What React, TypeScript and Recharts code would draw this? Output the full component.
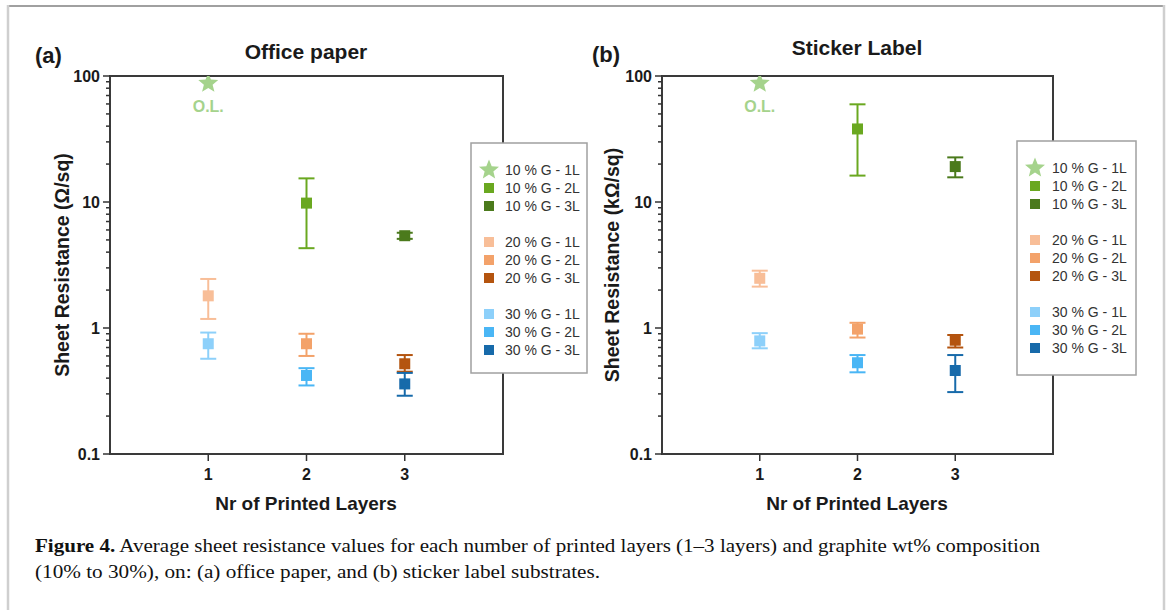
import { ErrorBar, ReferenceArea, Scatter, ScatterChart, XAxis, YAxis } from "recharts";

// series order: 10 % (1L,2L,3L), 20 % (1L,2L,3L), 30 % (1L,2L,3L)
const SERIES = [
  "10 % G - 1L", "10 % G - 2L", "10 % G - 3L",
  "20 % G - 1L", "20 % G - 2L", "20 % G - 3L",
  "30 % G - 1L", "30 % G - 2L", "30 % G - 3L",
];
const LAYERS = [1, 2, 3, 1, 2, 3, 1, 2, 3];
const COLORS = [
  "#a5d38c", "#6aa820", "#4b7a1c",
  "#f8be98", "#f3a26a", "#b4540f",
  "#8dd0fa", "#4ab6f5", "#176aaa",
];

const X_TICKS = [1, 2, 3];
const Y_MAJOR = [0.1, 1, 10, 100];
const Y_TICKS = [
  0.1, 0.2, 0.3, 0.4, 0.5, 0.6, 0.7, 0.8, 0.9,
  1, 2, 3, 4, 5, 6, 7, 8, 9,
  10, 20, 30, 40, 50, 60, 70, 80, 90, 100,
];

// (a) office paper, Ω/sq
const OFFICE_VALUE = [87.5, 9.8, 5.4, 1.8, 0.75, 0.52, 0.75, 0.42, 0.36];
const OFFICE_LOW = [null, 4.3, 5.1, 1.18, 0.6, 0.45, 0.57, 0.35, 0.29];
const OFFICE_HIGH = [null, 15.4, 5.7, 2.45, 0.9, 0.61, 0.92, 0.48, 0.44];

// (b) sticker label, kΩ/sq
const STICKER_VALUE = [87.5, 38, 19.1, 2.48, 0.98, 0.8, 0.79, 0.53, 0.46];
const STICKER_LOW = [null, 16.2, 15.7, 2.13, 0.84, 0.7, 0.69, 0.445, 0.31];
const STICKER_HIGH = [null, 59.6, 22.6, 2.85, 1.1, 0.88, 0.91, 0.61, 0.61];

const SANS = '"Liberation Sans", Arial, sans-serif';
const SERIF = '"Liberation Serif", "Times New Roman", serif';
const INK = "#1a1a1a";

function starPath(cx: number, cy: number, R: number, r: number) {
  let d = "";
  for (let k = 0; k < 10; k++) {
    const rad = k % 2 === 0 ? R : r;
    const a = -Math.PI / 2 + (k * Math.PI) / 5;
    d += (k ? "L" : "M") + (cx + rad * Math.cos(a)).toFixed(2) + "," + (cy + rad * Math.sin(a)).toFixed(2);
  }
  return d + "Z";
}

function YTick(props: any) {
  const { x, y, payload } = props;
  const major = Y_MAJOR.includes(payload.value);
  return (
    <g>
      <line x1={x - (major ? 7 : 4)} x2={x} y1={y} y2={y} stroke="#333" strokeWidth={1.5} />
      {major && (
        <text x={x - 10} y={y} dy={5.5} textAnchor="end" fontFamily={SANS} fontSize={16} fontWeight="bold" fill={INK}>
          {payload.value}
        </text>
      )}
    </g>
  );
}

function squareShape(color: string) {
  return (p: any) => <rect x={p.cx - 5.5} y={p.cy - 5.5} width={11} height={11} fill={color} />;
}

function starShape(color: string) {
  return (p: any) => (
    <g>
      <path d={starPath(p.cx, p.cy, 10.5, 4.6)} fill={color} />
      <text x={p.cx} y={p.cy + 29} textAnchor="middle" fontFamily={SANS} fontSize={16} fontWeight="bold" fill={color}>
        O.L.
      </text>
    </g>
  );
}

interface PanelProps {
  left: number;
  plotLeft: number;
  plotRight: number;
  values: number[];
  lows: (number | null)[];
  highs: (number | null)[];
}

function Panel({ left, plotLeft, plotRight, values, lows, highs }: PanelProps) {
  const W = 600;
  const H = 530;
  return (
    <div style={{ position: "absolute", left, top: 0 }}>
      <ScatterChart
        width={W}
        height={H}
        margin={{ top: 76, left: plotLeft - left - 60, right: left + W - plotRight, bottom: H - 454 - 40 }}
      >
        <XAxis
          type="number"
          dataKey="layer"
          domain={[0, 4]}
          ticks={X_TICKS}
          height={40}
          axisLine={false}
          tickSize={7}
          tickMargin={8}
          tickLine={{ stroke: "#333", strokeWidth: 1.5 }}
          tick={{ fontFamily: SANS, fontSize: 16, fontWeight: "bold", fill: INK }}
        />
        <YAxis
          type="number"
          dataKey="value"
          scale="log"
          domain={[0.1, 100]}
          allowDataOverflow
          ticks={Y_TICKS}
          interval={0}
          width={60}
          axisLine={false}
          tickLine={false}
          tickSize={0}
          tickMargin={0}
          tick={(p: any) => <YTick {...p} />}
        />
        <ReferenceArea x1={0} x2={4} y1={0.1} y2={100} fill="none" stroke="#3a3a3a" strokeWidth={2} ifOverflow="visible" />
        {SERIES.map((name, i) => {
          const lo = lows[i];
          const hi = highs[i];
          const point = {
            layer: LAYERS[i],
            value: values[i],
            err: lo != null && hi != null ? [values[i] - lo, hi - values[i]] : undefined,
          };
          return (
            <Scatter
              key={name}
              name={name}
              data={[point]}
              fill={COLORS[i]}
              shape={i === 0 ? starShape(COLORS[i]) : squareShape(COLORS[i])}
              isAnimationActive={false}
            >
              {lo != null && (
                <ErrorBar dataKey="err" direction="y" width={8} strokeWidth={2} stroke={COLORS[i]} isAnimationActive={false} />
              )}
            </Scatter>
          );
        })}
      </ScatterChart>
    </div>
  );
}

const ROW_SLOTS = [0, 1, 2, 4, 5, 6, 8, 9, 10];

function LegendBox({ x, y, w, h, textDx }: { x: number; y: number; w: number; h: number; textDx: number }) {
  return (
    <g>
      <rect x={x} y={y} width={w} height={h} fill="#fff" stroke="#a0a0a0" strokeWidth={1.5} />
      {SERIES.map((name, i) => {
        const cy = y + 27 + ROW_SLOTS[i] * 18;
        const mx = x + 18;
        return (
          <g key={name}>
            {i === 0 ? (
              <path d={starPath(mx, cy, 10.5, 4.6)} fill={COLORS[i]} />
            ) : (
              <rect x={mx - 5} y={cy - 5} width={10} height={10} fill={COLORS[i]} />
            )}
            <text x={x + textDx} y={cy + 5} fontFamily={SANS} fontSize={14} fill="#333">
              {name}
            </text>
          </g>
        );
      })}
    </g>
  );
}

export default function App() {
  const bold = { fontFamily: SANS, fontWeight: "bold" as const, fill: INK };
  return (
    <div style={{ position: "absolute", left: 0, top: 0, width: 1170, height: 610, background: "#fff", overflow: "hidden" }}>
      <Panel left={0} plotLeft={110} plotRight={503} values={OFFICE_VALUE} lows={OFFICE_LOW} highs={OFFICE_HIGH} />
      <Panel left={560} plotLeft={662} plotRight={1053} values={STICKER_VALUE} lows={STICKER_LOW} highs={STICKER_HIGH} />
      <svg width={1170} height={610} style={{ position: "absolute", left: 0, top: 0, pointerEvents: "none" }}>
        {/* page frame */}
        <line x1={8} x2={1164} y1={6} y2={6} stroke="#a0a0a0" strokeWidth={2} />
        <line x1={8} x2={8} y1={5} y2={610} stroke="#cfcfcf" strokeWidth={2.5} />
        <line x1={1164} x2={1164} y1={5} y2={610} stroke="#cfcfcf" strokeWidth={2.5} />

        <text x={35} y={63} fontSize={22} {...bold}>(a)</text>
        <text x={306} y={59} fontSize={21} textAnchor="middle" {...bold}>Office paper</text>
        <text x={62} y={265} fontSize={19.5} textAnchor="middle" dominantBaseline="central" transform="rotate(-90 62 265)" {...bold}>
          Sheet Resistance (Ω/sq)
        </text>
        <text x={306} y={510} fontSize={19} textAnchor="middle" {...bold}>Nr of Printed Layers</text>

        <text x={592} y={62} fontSize={22} {...bold}>(b)</text>
        <text x={857} y={55} fontSize={21} textAnchor="middle" {...bold}>Sticker Label</text>
        <text x={612} y={265} fontSize={19.5} textAnchor="middle" dominantBaseline="central" transform="rotate(-90 612 265)" {...bold}>
          Sheet Resistance (kΩ/sq)
        </text>
        <text x={857} y={510} fontSize={19} textAnchor="middle" {...bold}>Nr of Printed Layers</text>

        <LegendBox x={471} y={143} w={116} h={230} textDx={34} />
        <LegendBox x={1017} y={141} w={119} h={234} textDx={35} />

        <text x={35} y={552} fontFamily={SERIF} fontSize={19} fill="#111" textLength={1005} lengthAdjust="spacingAndGlyphs">
          <tspan fontWeight="bold">Figure 4.</tspan> Average sheet resistance values for each number of printed layers (1–3 layers) and graphite wt% composition
        </text>
        <text x={35} y={578} fontFamily={SERIF} fontSize={19} fill="#111" textLength={565} lengthAdjust="spacingAndGlyphs">
          (10% to 30%), on: (a) office paper, and (b) sticker label substrates.
        </text>
      </svg>
    </div>
  );
}
